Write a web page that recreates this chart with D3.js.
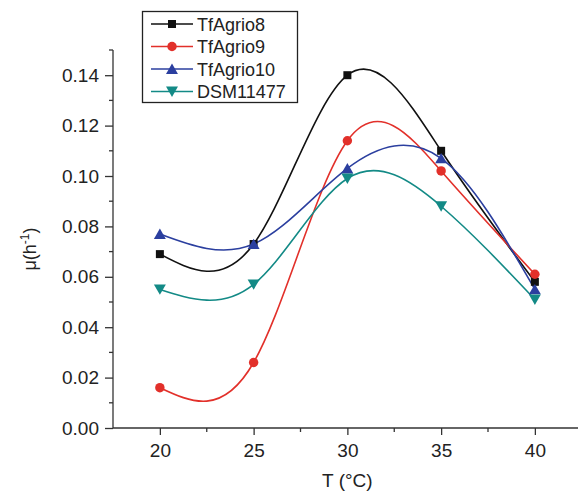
<!DOCTYPE html>
<html><head><meta charset="utf-8">
<script src="https://cdn.jsdelivr.net/npm/d3@7"></script>
<style>body{margin:0;background:#fff}svg{display:block}text{font-family:"Liberation Sans",Arial,sans-serif}</style>
</head><body>
<script>
const temps = [20, 25, 30, 35, 40];
const tfAgrio8 = [0.069, 0.073, 0.140, 0.110, 0.058];
const tfAgrio9 = [0.016, 0.026, 0.114, 0.102, 0.061];
const tfAgrio10 = [0.077, 0.073, 0.103, 0.107, 0.055];
const dsm11477 = [0.055, 0.057, 0.099, 0.088, 0.051];
const seriesNames = ["TfAgrio8", "TfAgrio9", "TfAgrio10", "DSM11477"];
const xTicks = [20, 25, 30, 35, 40];
const yTicks = [0, 0.02, 0.04, 0.06, 0.08, 0.10, 0.12, 0.14];

const series = [
  {name: seriesNames[0], values: tfAgrio8, color: "#111111", sym: d3.symbolSquare, size: 64, rot: 0},
  {name: seriesNames[1], values: tfAgrio9, color: "#e2302a", sym: d3.symbolCircle, size: 70, rot: 0},
  {name: seriesNames[2], values: tfAgrio10, color: "#2b3f9f", sym: d3.symbolTriangle, size: 62, rot: 0},
  {name: seriesNames[3], values: dsm11477, color: "#138a86", sym: d3.symbolTriangle, size: 62, rot: 180}
];

const W = 578, H = 491;
const svg = d3.select("body").append("svg").attr("width", W).attr("height", H);
const x = d3.scaleLinear().domain([17.5, 42.5]).range([113, 581.75]);
const y = d3.scaleLinear().domain([0, 0.15]).range([428, 50]);

// axes
const xAxis = d3.axisBottom(x).tickValues(xTicks).tickSize(7).tickPadding(9).tickFormat(d3.format("d"));
const gx = svg.append("g").attr("transform", "translate(0,428)").call(xAxis);
gx.select(".domain").attr("d", `M${x.range()[0]},0H${x.range()[1]}`);
const xMinor = [22.5, 27.5, 32.5, 37.5, 42.5];
gx.selectAll(".minor").data(xMinor).enter().append("line").attr("class", "minor")
  .attr("x1", d => x(d)).attr("x2", d => x(d)).attr("y1", 0).attr("y2", 4);

const yAxis = d3.axisLeft(y).tickValues(yTicks).tickSize(8).tickPadding(6).tickFormat(d3.format(".2f"));
const gy = svg.append("g").attr("transform", "translate(113,0)").call(yAxis);
gy.select(".domain").attr("d", `M0,${y(0.15)}V${y(0)}`);
const yMinor = [0.01, 0.03, 0.05, 0.07, 0.09, 0.11, 0.13, 0.15];
gy.selectAll(".minor").data(yMinor).enter().append("line").attr("class", "minor")
  .attr("x1", 0).attr("x2", -4).attr("y1", d => y(d)).attr("y2", d => y(d));

svg.selectAll(".domain, .tick line, .minor").attr("stroke", "#333").attr("stroke-width", 1.3);
svg.selectAll(".tick text").attr("font-size", 19).attr("fill", "#222")
  .attr("font-family", "'Liberation Sans', Arial, sans-serif");

// axis labels
svg.append("text").attr("x", x(30)).attr("y", 487).attr("text-anchor", "middle")
  .attr("font-size", 19).attr("fill", "#222").text("T (°C)");
const yl = svg.append("text").attr("transform", "translate(36,249) rotate(-90)")
  .attr("text-anchor", "middle").attr("font-size", 18).attr("fill", "#222");
yl.append("tspan").text("μ(h");
yl.append("tspan").attr("dy", -7).attr("font-size", 12).text("-1");
yl.append("tspan").attr("dy", 7).text(")");

// lines
const line = d3.line().curve(d3.curveNatural).x((d, i) => x(temps[i])).y(d => y(d));
series.forEach(s => {
  svg.append("path").attr("d", line(s.values)).attr("fill", "none")
    .attr("stroke", s.color).attr("stroke-width", 1.6);
});
series.forEach(s => {
  svg.append("g").selectAll("path").data(s.values).enter().append("path")
    .attr("d", d3.symbol().type(s.sym).size(s.size))
    .attr("transform", (d, i) => `translate(${x(temps[i])},${y(d) + (s.sym === d3.symbolTriangle ? (s.rot ? -1.5 : 1.5) : 0)}) rotate(${s.rot})`)
    .attr("fill", s.color);
});

// legend
const lg = svg.append("g");
lg.append("rect").attr("x", 142.5).attr("y", 11.5).attr("width", 155).attr("height", 91)
  .attr("fill", "#fff").attr("stroke", "#222").attr("stroke-width", 1.3);
series.forEach((s, i) => {
  const cy = 24 + i * 22.5;
  lg.append("line").attr("x1", 151).attr("x2", 193).attr("y1", cy).attr("y2", cy)
    .attr("stroke", s.color).attr("stroke-width", 1.6);
  lg.append("path").attr("d", d3.symbol().type(s.sym).size(s.size))
    .attr("transform", `translate(172,${cy + (s.sym === d3.symbolTriangle ? (s.rot ? -1.5 : 1.5) : 0)}) rotate(${s.rot})`)
    .attr("fill", s.color);
  lg.append("text").attr("x", 197).attr("y", cy + 6.5).attr("font-size", 18).attr("fill", "#222").text(s.name);
});
</script>
</body></html>
